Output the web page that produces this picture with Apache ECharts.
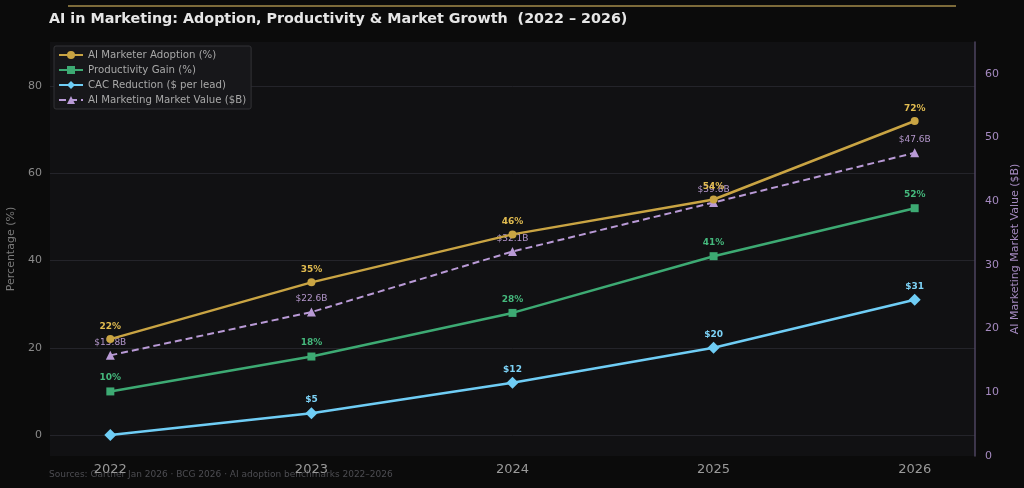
<!DOCTYPE html>
<html>
<head>
<meta charset="utf-8">
<script src="https://cdn.jsdelivr.net/npm/echarts@6/dist/echarts.min.js"></script>
<style>
  html, body { margin: 0; padding: 0; background: #0b0b0b; }
  #myChart { width: 1024px; height: 488px; }
</style>
</head>
<body>
<div id="myChart"></div>
<script>
var years = [2022, 2023, 2024, 2025, 2026];
var adoption = [22, 35, 46, 54, 72];
var productivity = [10, 18, 28, 41, 52];
var cacReduction = [0, 5, 12, 20, 31];
var marketValue = [15.8, 22.6, 32.1, 39.8, 47.6];
var leftTicks = [0, 20, 40, 60, 80];

var font = 'DejaVu Sans';
var gold = '#c9a443', green = '#3daa73', blue = '#6fcdf5', purple = '#b99ad6';

function pairs(arr) {
    return arr.map(function (v, i) { return [years[i], v]; });
}
// band between adoption and productivity (stacked on top of productivity)
var band = adoption.map(function (v, i) { return [years[i], v - productivity[i]]; });

var option = {
    backgroundColor: '#0b0b0b',
    animation: false,
    textStyle: { fontFamily: font },
    title: {
        text: 'AI in Marketing: Adoption, Productivity & Market Growth  (2022 \u2013 2026)',
        left: 44, top: 7,
        textStyle: { color: '#e6e6e6', fontSize: 14.3, fontWeight: 'bold', fontFamily: font }
    },
    graphic: [
        { type: 'line', shape: { x1: 68, y1: 6, x2: 956, y2: 6 }, style: { stroke: '#7d6b3a', lineWidth: 2 } },
        { type: 'text', left: 49, top: 470, style: { text: 'Sources: Gartner Jan 2026 \u00b7 BCG 2026 \u00b7 AI adoption benchmarks 2022\u20132026', fill: '#4d4d52', font: '9px DejaVu Sans' } }
    ],
    legend: {
        orient: 'vertical', left: 54, top: 46,
        backgroundColor: '#17171a', borderColor: '#333336', borderWidth: 1, borderRadius: 2,
        padding: [4, 5, 4, 4], itemGap: 5, itemWidth: 24, itemHeight: 10,
        textStyle: { color: '#a8a8a8', fontSize: 10.2, fontFamily: font },
        data: ['AI Marketer Adoption (%)', 'Productivity Gain (%)', 'CAC Reduction ($ per lead)', 'AI Marketing Market Value ($B)']
    },
    grid: { left: 50, right: 49, top: 42, bottom: 32, outerBoundsMode: 'none', show: true, backgroundColor: '#111113', borderWidth: 0 },
    xAxis: {
        type: 'value', min: 2021.7, max: 2026.3,
        axisLine: { show: false }, axisTick: { show: false }, splitLine: { show: false },
        axisLabel: { customValues: years, color: '#9a9a9a', fontSize: 13, margin: 7, formatter: function (v) { return String(v); } }
    },
    yAxis: [
        {
            type: 'value', min: -4.8, max: 90.1,
            name: 'Percentage (%)', nameLocation: 'middle', nameGap: 32,
            nameTextStyle: { color: '#7a7a7a', fontSize: 11 },
            axisLine: { show: false },
            axisTick: { show: false, customValues: leftTicks },
            axisLabel: { customValues: leftTicks, color: '#8a8a8a', fontSize: 11, margin: 8 },
            splitLine: { show: true, lineStyle: { color: '#24242a', width: 1 } }
        },
        {
            type: 'value', min: 0, max: 65, interval: 10, position: 'right',
            name: 'AI Marketing Market Value ($B)', nameLocation: 'middle', nameGap: 35,
            nameTextStyle: { color: '#a58ac0', fontSize: 11 },
            axisLine: { show: true, lineStyle: { color: '#4e4560', width: 1.5 } },
            axisTick: { show: false },
            axisLabel: { color: '#a58ac0', fontSize: 11, margin: 10, showMaxLabel: false },
            splitLine: { show: false }
        }
    ],
    series: [
        {
            name: 'bandBase', type: 'line', stack: 'band', data: pairs(productivity),
            lineStyle: { opacity: 0 }, symbol: 'none', silent: true, z: 1, legendHoverLink: false
        },
        {
            name: 'band', type: 'line', stack: 'band', data: band,
            lineStyle: { opacity: 0 }, symbol: 'none', silent: true, z: 1,
            areaStyle: { color: 'rgba(201,164,67,0.07)' }
        },
        {
            name: 'AI Marketer Adoption (%)', type: 'line', data: pairs(adoption),
            color: gold, symbol: 'circle', symbolSize: 8,
            lineStyle: { width: 2.5, color: gold }, itemStyle: { color: gold },
            label: { show: true, position: 'top', distance: 4, color: '#e2bc50', fontSize: 9, fontWeight: 'bold',
                formatter: function (p) { return p.value[1] + '%'; } },
            z: 5
        },
        {
            name: 'Productivity Gain (%)', type: 'line', data: pairs(productivity),
            color: green, symbol: 'rect', symbolSize: 8,
            lineStyle: { width: 2.5, color: green }, itemStyle: { color: green },
            label: { show: true, position: 'top', distance: 5, color: '#45b97d', fontSize: 9, fontWeight: 'bold',
                formatter: function (p) { return p.value[1] + '%'; } },
            z: 5
        },
        {
            name: 'CAC Reduction ($ per lead)', type: 'line', data: pairs(cacReduction),
            color: blue, symbol: 'diamond', symbolSize: 12,
            lineStyle: { width: 2.5, color: blue }, itemStyle: { color: blue },
            label: { show: true, position: 'top', distance: 3, color: '#7dd3f7', fontSize: 9, fontWeight: 'bold',
                formatter: function (p) { return p.value[1] > 0 ? '$' + p.value[1] : ''; } },
            z: 5
        },
        {
            name: 'AI Marketing Market Value ($B)', type: 'line', yAxisIndex: 1, data: pairs(marketValue),
            color: purple, symbol: 'triangle', symbolSize: 9,
            lineStyle: { width: 2, color: purple, type: [7, 4] }, itemStyle: { color: purple },
            label: { show: true, position: 'top', distance: 4, color: '#b497cc', fontSize: 9,
                formatter: function (p) { return '$' + p.value[1].toFixed(1) + 'B'; } },
            z: 4
        }
    ]
};

echarts.init(document.getElementById('myChart')).setOption(option);
</script>
</body>
</html>
